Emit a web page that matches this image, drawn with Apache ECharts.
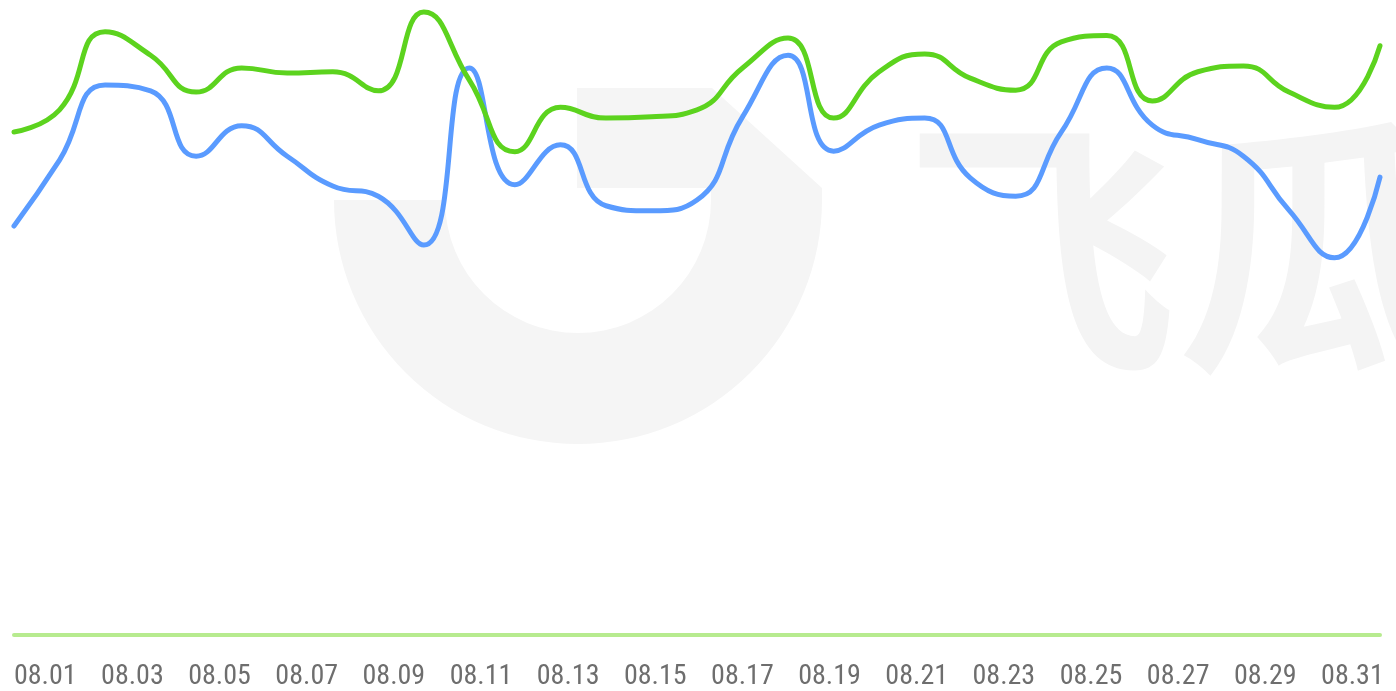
<!DOCTYPE html>
<html>
<head>
<meta charset="utf-8">
<script src="https://cdn.jsdelivr.net/npm/echarts@6/dist/echarts.min.js"></script>
<style>
html,body{margin:0;padding:0;background:#fff;}
#chart{width:1396px;height:691px;}
</style>
</head>
<body>
<div id="chart"></div>
<script>
// Data
const days = ['08.01','08.02','08.03','08.04','08.05','08.06','08.07','08.08','08.09','08.10','08.11','08.12','08.13','08.14','08.15','08.16','08.17','08.18','08.19','08.20','08.21','08.22','08.23','08.24','08.25','08.26','08.27','08.28','08.29','08.30','08.31'];
const tickLabels = ['08.01','08.03','08.05','08.07','08.09','08.11','08.13','08.15','08.17','08.19','08.21','08.23','08.25','08.27','08.29','08.31'];
const greenSeries = [79.2,82.7,95.0,91.3,85.5,89.3,88.5,88.7,85.7,98.1,87.4,76.1,83.1,81.4,81.6,82.7,89.3,94.0,81.4,88.7,91.5,87.7,85.8,93.4,94.4,84.1,88.7,89.6,85.5,83.1,92.8];
const blueSeries = [64.4,74.8,86.6,85.7,75.4,80.2,75.4,70.7,69.1,61.4,89.3,70.9,77.2,67.6,66.8,68.5,81.6,91.3,76.2,80.3,81.4,72.0,69.1,79.2,89.3,80.3,78.0,75.4,66.9,59.4,72.1];
const watermarkText = '飞瓜';

const chart = echarts.init(document.getElementById('chart'), null, {renderer:'canvas'});
const wm = '#f5f5f5';
chart.setOption({
  animation:false,
  graphic:[
    {type:'sector', z:-10, shape:{cx:578, cy:200, r0:133, r:244, startAngle:0, endAngle:Math.PI}, style:{fill:wm}},
    {type:'polygon', z:-10, shape:{points:[[577,88],[712,88],[822,188],[822,201],[711,201],[711,188],[577,188]]}, style:{fill:wm}},
    {type:'text', z:-10, left:905, top:112, style:{text:watermarkText, fill:'#f4f4f4', font:'bold 272px "Noto Sans CJK SC"'}}
  ],
  grid:[
    {left:14, right:16, top:0, bottom:56, containLabel:false},
    {left:1.7, width:1403.4, top:0, bottom:56, containLabel:false}
  ],
  xAxis:[
    {type:'category', gridIndex:0, data:days, boundaryGap:false,
     axisLine:{show:true, lineStyle:{color:'#b7eb8f', width:4, cap:'round'}},
     axisTick:{show:false}, axisLabel:{show:false}, splitLine:{show:false}},
    {type:'category', gridIndex:1, data:tickLabels, boundaryGap:true,
     axisLine:{show:false}, axisTick:{show:false}, splitLine:{show:false},
     axisLabel:{show:true, interval:0, margin:32, color:'#6e6e6e', fontSize:28,
       fontFamily:"'Liberation Sans Narrow','Roboto Condensed','DejaVu Sans Condensed',Roboto,sans-serif"}}
  ],
  yAxis:[
    {type:'value', gridIndex:0, min:0, max:100, show:false},
    {type:'value', gridIndex:1, min:0, max:100, show:false}
  ],
  series:[
    {type:'line', xAxisIndex:0, yAxisIndex:0, data:greenSeries, smooth:0.5, showSymbol:false, symbol:'none',
     lineStyle:{color:'#5cd31e', width:5, cap:'round', join:'round'}, z:3},
    {type:'line', xAxisIndex:0, yAxisIndex:0, data:blueSeries, smooth:0.5, showSymbol:false, symbol:'none',
     lineStyle:{color:'#5a9bff', width:5, cap:'round', join:'round'}, z:2}
  ]
});
</script>
</body>
</html>
